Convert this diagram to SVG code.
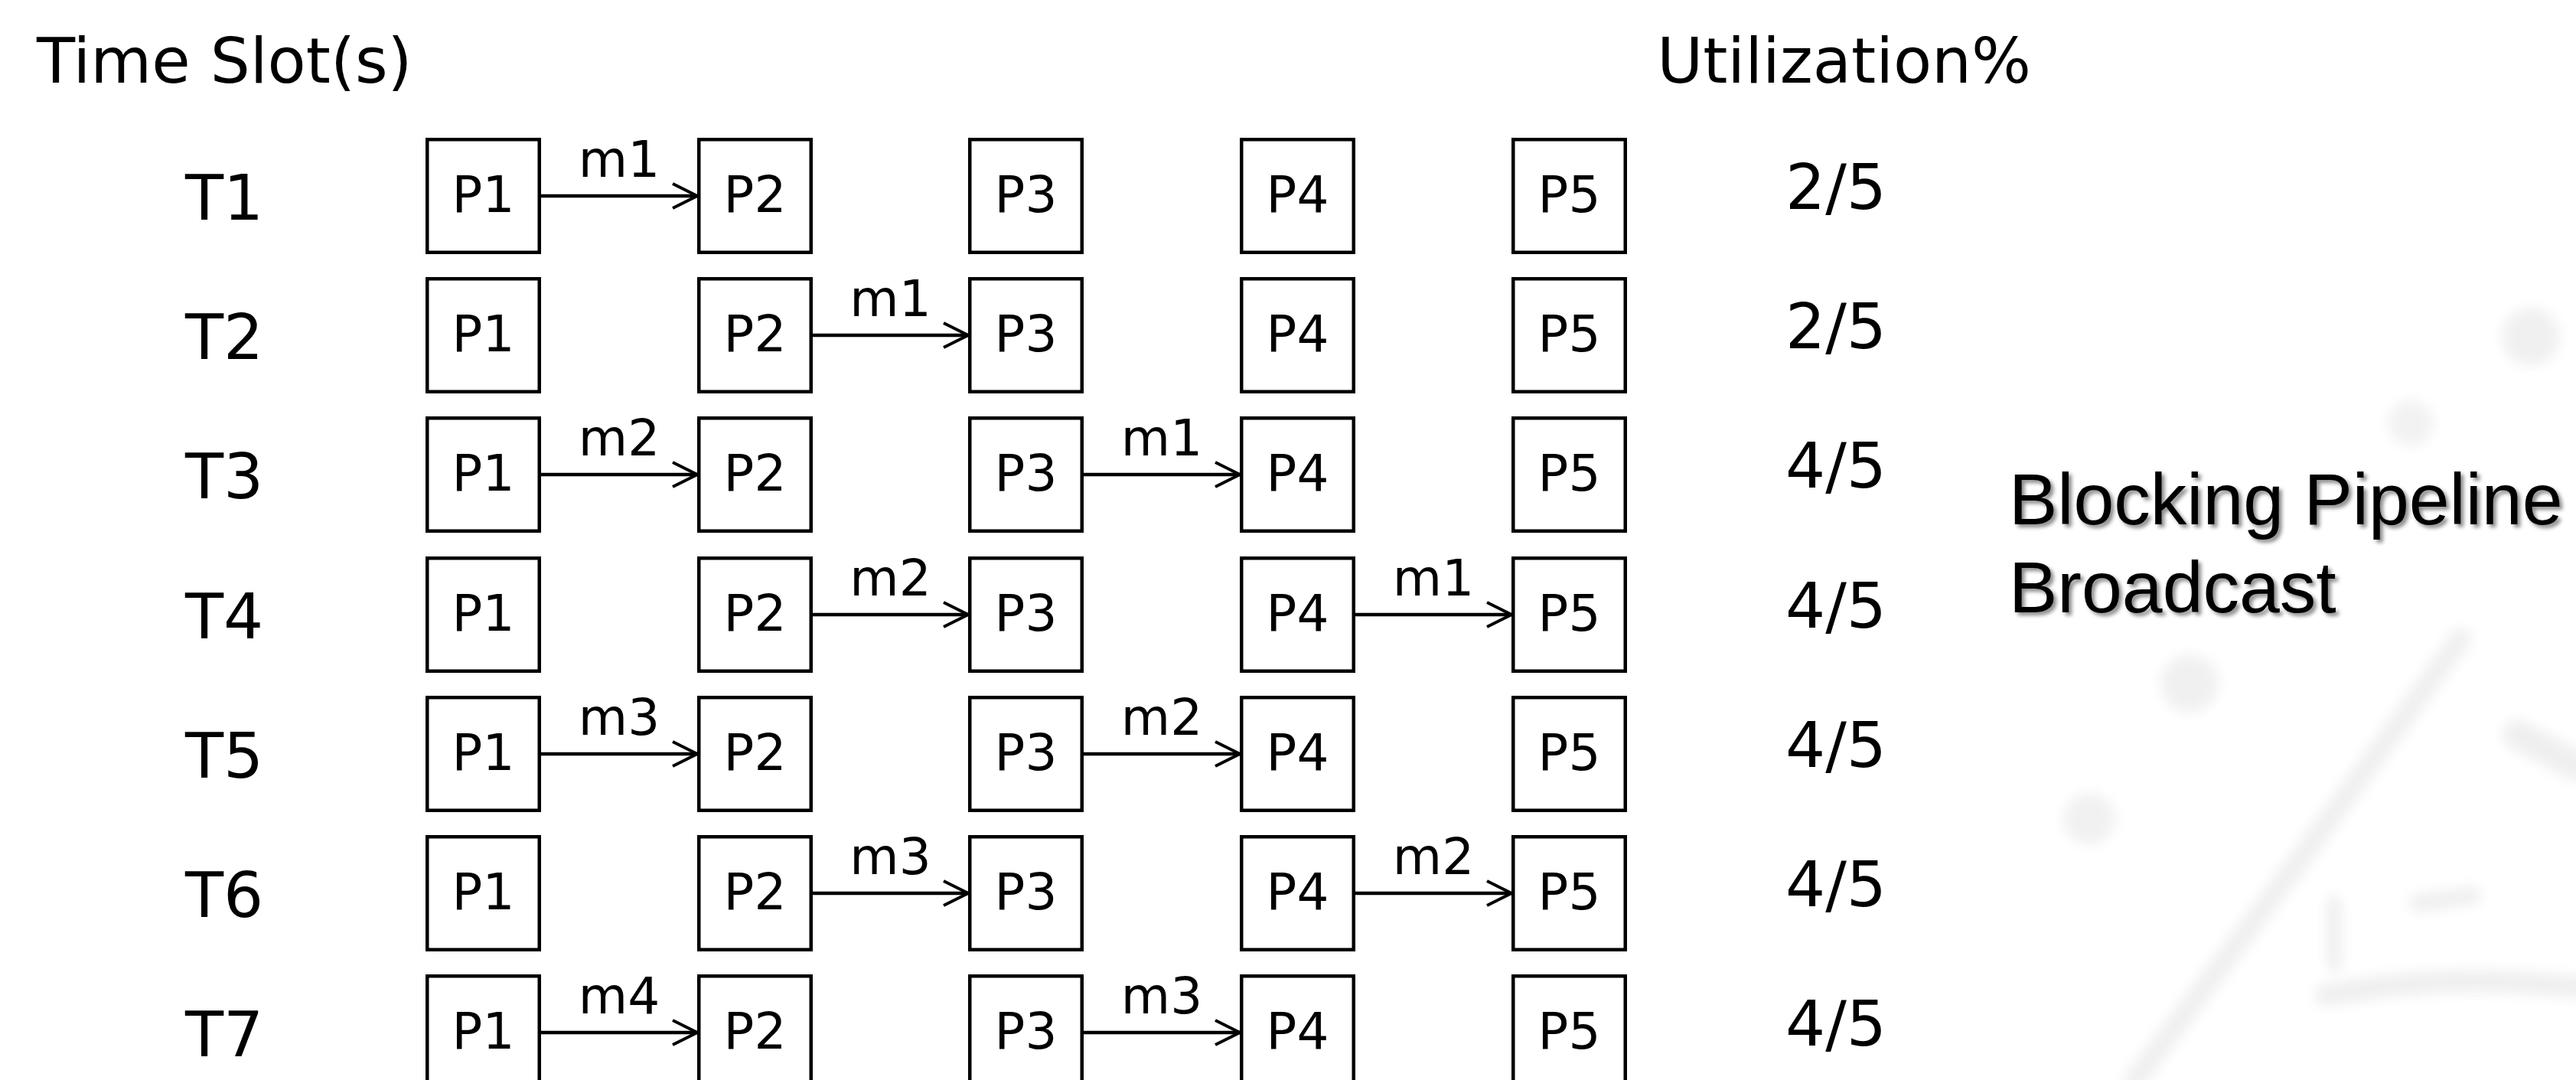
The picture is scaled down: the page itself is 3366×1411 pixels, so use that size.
<svg xmlns="http://www.w3.org/2000/svg" width="3366" height="1411" viewBox="0 0 3366 1411">
<defs>
<style>
.box{fill:#fff;stroke:#000;stroke-width:4.5}
.pl{font-family:"DejaVu Sans",sans-serif;font-size:66px;text-anchor:middle;fill:#000}
.ml{font-family:"DejaVu Sans",sans-serif;font-size:66px;text-anchor:middle;fill:#000}
.tl{font-family:"DejaVu Sans",sans-serif;font-size:82px;fill:#000}
.ul{font-family:"DejaVu Sans",sans-serif;font-size:82px;fill:#000}
.hd{font-family:"DejaVu Sans",sans-serif;font-size:82px;fill:#000}
.ttl{font-family:"Liberation Sans",Arial,sans-serif;font-size:95px;fill:#000}
.edge{stroke:#000;stroke-width:4.5;fill:none;marker-end:url(#arr)}
.wm{fill:none;stroke:#eeeeee;stroke-linecap:round}
</style>
<marker id="arr" viewBox="0 0 36 36" refX="34" refY="18" markerWidth="36" markerHeight="36" markerUnits="userSpaceOnUse" orient="auto">
<path d="M2,2 L34,18 L2,34" fill="none" stroke="#000" stroke-width="4"/>
</marker>
<filter id="shadow" x="-5%" y="-20%" width="110%" height="150%">
<feDropShadow dx="4" dy="4" stdDeviation="2.5" flood-color="#000" flood-opacity="0.45"/>
</filter>
<filter id="blur" x="-20%" y="-20%" width="140%" height="140%">
<feGaussianBlur stdDeviation="8"/>
</filter>
</defs>
<rect x="0" y="0" width="3366" height="1411" fill="#fff"/>

<g id="watermark" filter="url(#blur)" opacity="0.9">
<path class="wm" stroke-width="28" d="M2790,1411 L3000,1130 L3215,835"/>
<path class="wm" stroke-width="30" d="M3040,1300 Q3200,1270 3366,1290"/>
<path class="wm" stroke-width="20" d="M3050,1260 L3050,1180"/>
<path class="wm" stroke-width="40" d="M3290,960 L3366,1000"/>
<circle cx="2861" cy="893" r="38" fill="#efefef"/>
<circle cx="2730" cy="1070" r="34" fill="#f0f0f0"/>
<circle cx="3307" cy="440" r="38" fill="#efefef"/>
<circle cx="3150" cy="553" r="30" fill="#f1f1f1"/>
<path class="wm" stroke-width="24" d="M3160,1180 L3230,1170"/>
</g>

<g id="headers">
<text class="hd" x="48" y="108">Time Slot(s)</text>
<text class="hd" x="2654" y="108" text-anchor="end">Utilization%</text>
</g>

<g id="title" filter="url(#shadow)">
<text class="ttl" x="2625" y="685">Blocking Pipeline</text>
<text class="ttl" x="2625" y="800">Broadcast</text>
</g>

<g id="time-labels">
<text class="tl" x="242" y="287">T1</text>
<text class="tl" x="242" y="469">T2</text>
<text class="tl" x="242" y="651">T3</text>
<text class="tl" x="242" y="834">T4</text>
<text class="tl" x="242" y="1016">T5</text>
<text class="tl" x="242" y="1198">T6</text>
<text class="tl" x="242" y="1380">T7</text>
</g>

<g id="utilization">
<text class="ul" x="2333" y="273">2/5</text>
<text class="ul" x="2333" y="455">2/5</text>
<text class="ul" x="2333" y="637">4/5</text>
<text class="ul" x="2333" y="820">4/5</text>
<text class="ul" x="2333" y="1002">4/5</text>
<text class="ul" x="2333" y="1184">4/5</text>
<text class="ul" x="2333" y="1366">4/5</text>
</g>

<!-- Row 1 -->
<g id="t1-p1"><rect class="box" x="558.25" y="182.25" width="146.5" height="147.5"/><text class="pl" x="631.5" y="277">P1</text></g>
<g id="t1-p2"><rect class="box" x="913.25" y="182.25" width="146.5" height="147.5"/><text class="pl" x="986.5" y="277">P2</text></g>
<g id="t1-p3"><rect class="box" x="1267.25" y="182.25" width="146.5" height="147.5"/><text class="pl" x="1340.5" y="277">P3</text></g>
<g id="t1-p4"><rect class="box" x="1622.25" y="182.25" width="146.5" height="147.5"/><text class="pl" x="1695.5" y="277">P4</text></g>
<g id="t1-p5"><rect class="box" x="1977.25" y="182.25" width="146.5" height="147.5"/><text class="pl" x="2050.5" y="277">P5</text></g>
<!-- Row 2 -->
<g id="t2-p1"><rect class="box" x="558.25" y="364.25" width="146.5" height="147.5"/><text class="pl" x="631.5" y="459">P1</text></g>
<g id="t2-p2"><rect class="box" x="913.25" y="364.25" width="146.5" height="147.5"/><text class="pl" x="986.5" y="459">P2</text></g>
<g id="t2-p3"><rect class="box" x="1267.25" y="364.25" width="146.5" height="147.5"/><text class="pl" x="1340.5" y="459">P3</text></g>
<g id="t2-p4"><rect class="box" x="1622.25" y="364.25" width="146.5" height="147.5"/><text class="pl" x="1695.5" y="459">P4</text></g>
<g id="t2-p5"><rect class="box" x="1977.25" y="364.25" width="146.5" height="147.5"/><text class="pl" x="2050.5" y="459">P5</text></g>
<!-- Row 3 -->
<g id="t3-p1"><rect class="box" x="558.25" y="546.25" width="146.5" height="147.5"/><text class="pl" x="631.5" y="641">P1</text></g>
<g id="t3-p2"><rect class="box" x="913.25" y="546.25" width="146.5" height="147.5"/><text class="pl" x="986.5" y="641">P2</text></g>
<g id="t3-p3"><rect class="box" x="1267.25" y="546.25" width="146.5" height="147.5"/><text class="pl" x="1340.5" y="641">P3</text></g>
<g id="t3-p4"><rect class="box" x="1622.25" y="546.25" width="146.5" height="147.5"/><text class="pl" x="1695.5" y="641">P4</text></g>
<g id="t3-p5"><rect class="box" x="1977.25" y="546.25" width="146.5" height="147.5"/><text class="pl" x="2050.5" y="641">P5</text></g>
<!-- Row 4 -->
<g id="t4-p1"><rect class="box" x="558.25" y="729.25" width="146.5" height="147.5"/><text class="pl" x="631.5" y="824">P1</text></g>
<g id="t4-p2"><rect class="box" x="913.25" y="729.25" width="146.5" height="147.5"/><text class="pl" x="986.5" y="824">P2</text></g>
<g id="t4-p3"><rect class="box" x="1267.25" y="729.25" width="146.5" height="147.5"/><text class="pl" x="1340.5" y="824">P3</text></g>
<g id="t4-p4"><rect class="box" x="1622.25" y="729.25" width="146.5" height="147.5"/><text class="pl" x="1695.5" y="824">P4</text></g>
<g id="t4-p5"><rect class="box" x="1977.25" y="729.25" width="146.5" height="147.5"/><text class="pl" x="2050.5" y="824">P5</text></g>
<!-- Row 5 -->
<g id="t5-p1"><rect class="box" x="558.25" y="911.25" width="146.5" height="147.5"/><text class="pl" x="631.5" y="1006">P1</text></g>
<g id="t5-p2"><rect class="box" x="913.25" y="911.25" width="146.5" height="147.5"/><text class="pl" x="986.5" y="1006">P2</text></g>
<g id="t5-p3"><rect class="box" x="1267.25" y="911.25" width="146.5" height="147.5"/><text class="pl" x="1340.5" y="1006">P3</text></g>
<g id="t5-p4"><rect class="box" x="1622.25" y="911.25" width="146.5" height="147.5"/><text class="pl" x="1695.5" y="1006">P4</text></g>
<g id="t5-p5"><rect class="box" x="1977.25" y="911.25" width="146.5" height="147.5"/><text class="pl" x="2050.5" y="1006">P5</text></g>
<!-- Row 6 -->
<g id="t6-p1"><rect class="box" x="558.25" y="1093.25" width="146.5" height="147.5"/><text class="pl" x="631.5" y="1188">P1</text></g>
<g id="t6-p2"><rect class="box" x="913.25" y="1093.25" width="146.5" height="147.5"/><text class="pl" x="986.5" y="1188">P2</text></g>
<g id="t6-p3"><rect class="box" x="1267.25" y="1093.25" width="146.5" height="147.5"/><text class="pl" x="1340.5" y="1188">P3</text></g>
<g id="t6-p4"><rect class="box" x="1622.25" y="1093.25" width="146.5" height="147.5"/><text class="pl" x="1695.5" y="1188">P4</text></g>
<g id="t6-p5"><rect class="box" x="1977.25" y="1093.25" width="146.5" height="147.5"/><text class="pl" x="2050.5" y="1188">P5</text></g>
<!-- Row 7 -->
<g id="t7-p1"><rect class="box" x="558.25" y="1275.25" width="146.5" height="147.5"/><text class="pl" x="631.5" y="1370">P1</text></g>
<g id="t7-p2"><rect class="box" x="913.25" y="1275.25" width="146.5" height="147.5"/><text class="pl" x="986.5" y="1370">P2</text></g>
<g id="t7-p3"><rect class="box" x="1267.25" y="1275.25" width="146.5" height="147.5"/><text class="pl" x="1340.5" y="1370">P3</text></g>
<g id="t7-p4"><rect class="box" x="1622.25" y="1275.25" width="146.5" height="147.5"/><text class="pl" x="1695.5" y="1370">P4</text></g>
<g id="t7-p5"><rect class="box" x="1977.25" y="1275.25" width="146.5" height="147.5"/><text class="pl" x="2050.5" y="1370">P5</text></g>

<g id="connectors">
<!-- T1 -->
<line class="edge" x1="707" y1="256" x2="911" y2="256"/><text class="ml" x="809" y="231">m1</text>
<!-- T2 -->
<line class="edge" x1="1062" y1="438" x2="1265" y2="438"/><text class="ml" x="1163.5" y="413">m1</text>
<!-- T3 -->
<line class="edge" x1="707" y1="620" x2="911" y2="620"/><text class="ml" x="809" y="595">m2</text>
<line class="edge" x1="1416" y1="620" x2="1620" y2="620"/><text class="ml" x="1518" y="595">m1</text>
<!-- T4 -->
<line class="edge" x1="1062" y1="803" x2="1265" y2="803"/><text class="ml" x="1163.5" y="778">m2</text>
<line class="edge" x1="1771" y1="803" x2="1975" y2="803"/><text class="ml" x="1873" y="778">m1</text>
<!-- T5 -->
<line class="edge" x1="707" y1="985" x2="911" y2="985"/><text class="ml" x="809" y="960">m3</text>
<line class="edge" x1="1416" y1="985" x2="1620" y2="985"/><text class="ml" x="1518" y="960">m2</text>
<!-- T6 -->
<line class="edge" x1="1062" y1="1167" x2="1265" y2="1167"/><text class="ml" x="1163.5" y="1142">m3</text>
<line class="edge" x1="1771" y1="1167" x2="1975" y2="1167"/><text class="ml" x="1873" y="1142">m2</text>
<!-- T7 -->
<line class="edge" x1="707" y1="1349" x2="911" y2="1349"/><text class="ml" x="809" y="1324">m4</text>
<line class="edge" x1="1416" y1="1349" x2="1620" y2="1349"/><text class="ml" x="1518" y="1324">m3</text>
</g>
</svg>
